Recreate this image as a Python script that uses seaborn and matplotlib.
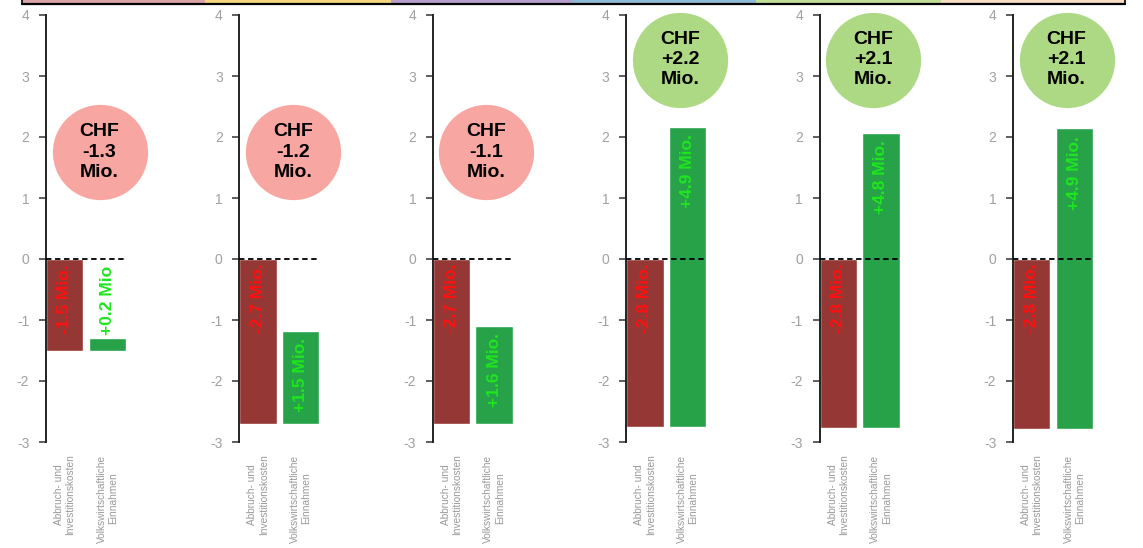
import matplotlib
matplotlib.use("Agg")
import matplotlib.pyplot as plt
import pandas as pd
import seaborn as sns

# Two bars per scenario: costs (negative) and economic income (floating bar)
categories = ["Abbruch- und\nInvestitionskosten", "Volkswirtschaftliche\nEinnahmen"]
costs = [1.50, 2.70, 2.70, 2.76, 2.77, 2.78]          # CHF Mio.
incomes = [0.20, 1.52, 1.60, 4.92, 4.84, 4.92]        # CHF Mio.
income_units = ["Mio", "Mio.", "Mio.", "Mio.", "Mio.", "Mio."]
y_ticks = [-3, -2, -1, 0, 1, 2, 3, 4]

# Coloured band along the top edge (one segment per scenario)
band_colors = ["#d9a2a6", "#f4d77c", "#b79dcc", "#8fb9d8", "#c1df98", "#f7ddc5"]
band_edges = [22, 205, 391, 572, 756, 941, 1125]

RED_BAR = "#953735"
GREEN_BAR = "#27a249"
RED_TEXT = "#ff1010"
GREEN_TEXT = "#1ee61e"
NEG_CIRCLE = "#f7a6a1"
POS_CIRCLE = "#add985"

sns.set_theme(style="white")
plt.rcParams["font.family"] = ["Liberation Sans", "DejaVu Sans"]

W, H = 1143, 548
fig = plt.figure(figsize=(W / 100, H / 100), dpi=100)
fig.patch.set_facecolor("white")

for i in range(len(costs)):
    cost = costs[i]
    inc = incomes[i]
    net = inc - cost
    x0 = 46 + 193.4 * i
    ax = fig.add_axes([x0 / W, 106 / H, 80 / W, 427 / H])

    df_cost = pd.DataFrame({"cat": [categories[0]], "val": [-cost]})
    sns.barplot(data=df_cost, x="cat", y="val", order=categories, color=RED_BAR,
                width=0.88, saturation=1, errorbar=None, ax=ax)
    df_inc = pd.DataFrame({"cat": [categories[1]], "val": [inc]})
    sns.barplot(data=df_inc, x="cat", y="val", order=categories, color=GREEN_BAR,
                width=0.88, saturation=1, errorbar=None, bottom=-cost, ax=ax)

    ax.set_xlim(-0.44, 1.44)
    ax.set_ylim(-3, 4)
    ax.set_yticks(y_ticks)
    ax.set_yticklabels([str(t) for t in y_ticks])
    ax.set_xlabel("")
    ax.set_ylabel("")
    sns.despine(ax=ax, top=True, right=True, bottom=True)
    ax.spines["left"].set_color("#222222")
    ax.spines["left"].set_linewidth(1.4)
    ax.tick_params(axis="y", left=True, length=5, width=1.1, color="#333333",
                   labelcolor="#a0a0a0", labelsize=10, pad=7)
    ax.tick_params(axis="x", bottom=False, labelsize=7.3, labelcolor="#999999", pad=3)
    for lab in ax.get_xticklabels():
        lab.set_rotation(90)
        lab.set_ha("center")
        lab.set_va("top")
        lab.set_multialignment("center")

    # zero line
    ax.axhline(0, color="black", ls=(0, (3, 2)), lw=1.3, zorder=5)

    # value labels inside the bars
    ax.text(0, -0.08, f"{-cost:.1f} Mio.", rotation=90, ha="center", va="top",
            color=RED_TEXT, fontweight="bold", fontsize=12.5, zorder=6)
    top = inc - cost
    inc_label = f"{inc:+.1f} {income_units[i]}"
    if inc < 1.0:
        ax.text(1, top + 0.06, inc_label, rotation=90, ha="center", va="bottom",
                color=GREEN_TEXT, fontweight="bold", fontsize=12.5, zorder=6)
    else:
        ax.text(1, top - 0.12, inc_label, rotation=90, ha="center", va="top",
                color=GREEN_TEXT, fontweight="bold", fontsize=12.5, zorder=6)

    # net result bubble
    cy = 1.75 if net < 0 else 3.27
    ax.scatter([0.82], [cy], s=4700, color=NEG_CIRCLE if net < 0 else POS_CIRCLE,
               linewidths=0, clip_on=False, zorder=7)
    ax.text(0.82, cy, f"CHF\n{net:+.1f}\nMio.", ha="center", va="center",
            fontsize=14, fontweight="bold", linespacing=1.25, color="black",
            zorder=8, clip_on=False)

# top colour band
sax = fig.add_axes([band_edges[0] / W, 1 - 4 / H, (band_edges[-1] - band_edges[0]) / W, 4 / H])
for c, a, b in zip(band_colors, band_edges[:-1], band_edges[1:]):
    sax.axvspan(a, b, color=c, lw=0)
sax.set_xlim(band_edges[0], band_edges[-1])
sax.set_ylim(0, 1)
sax.axis("off")
sax.axhline(0, color="black", lw=1.6, clip_on=False)
sax.axvline(band_edges[0], color="black", lw=1.2, clip_on=False)
sax.axvline(band_edges[-1], color="black", lw=1.2, clip_on=False)

fig.savefig("out.png", dpi=100, facecolor="white")
